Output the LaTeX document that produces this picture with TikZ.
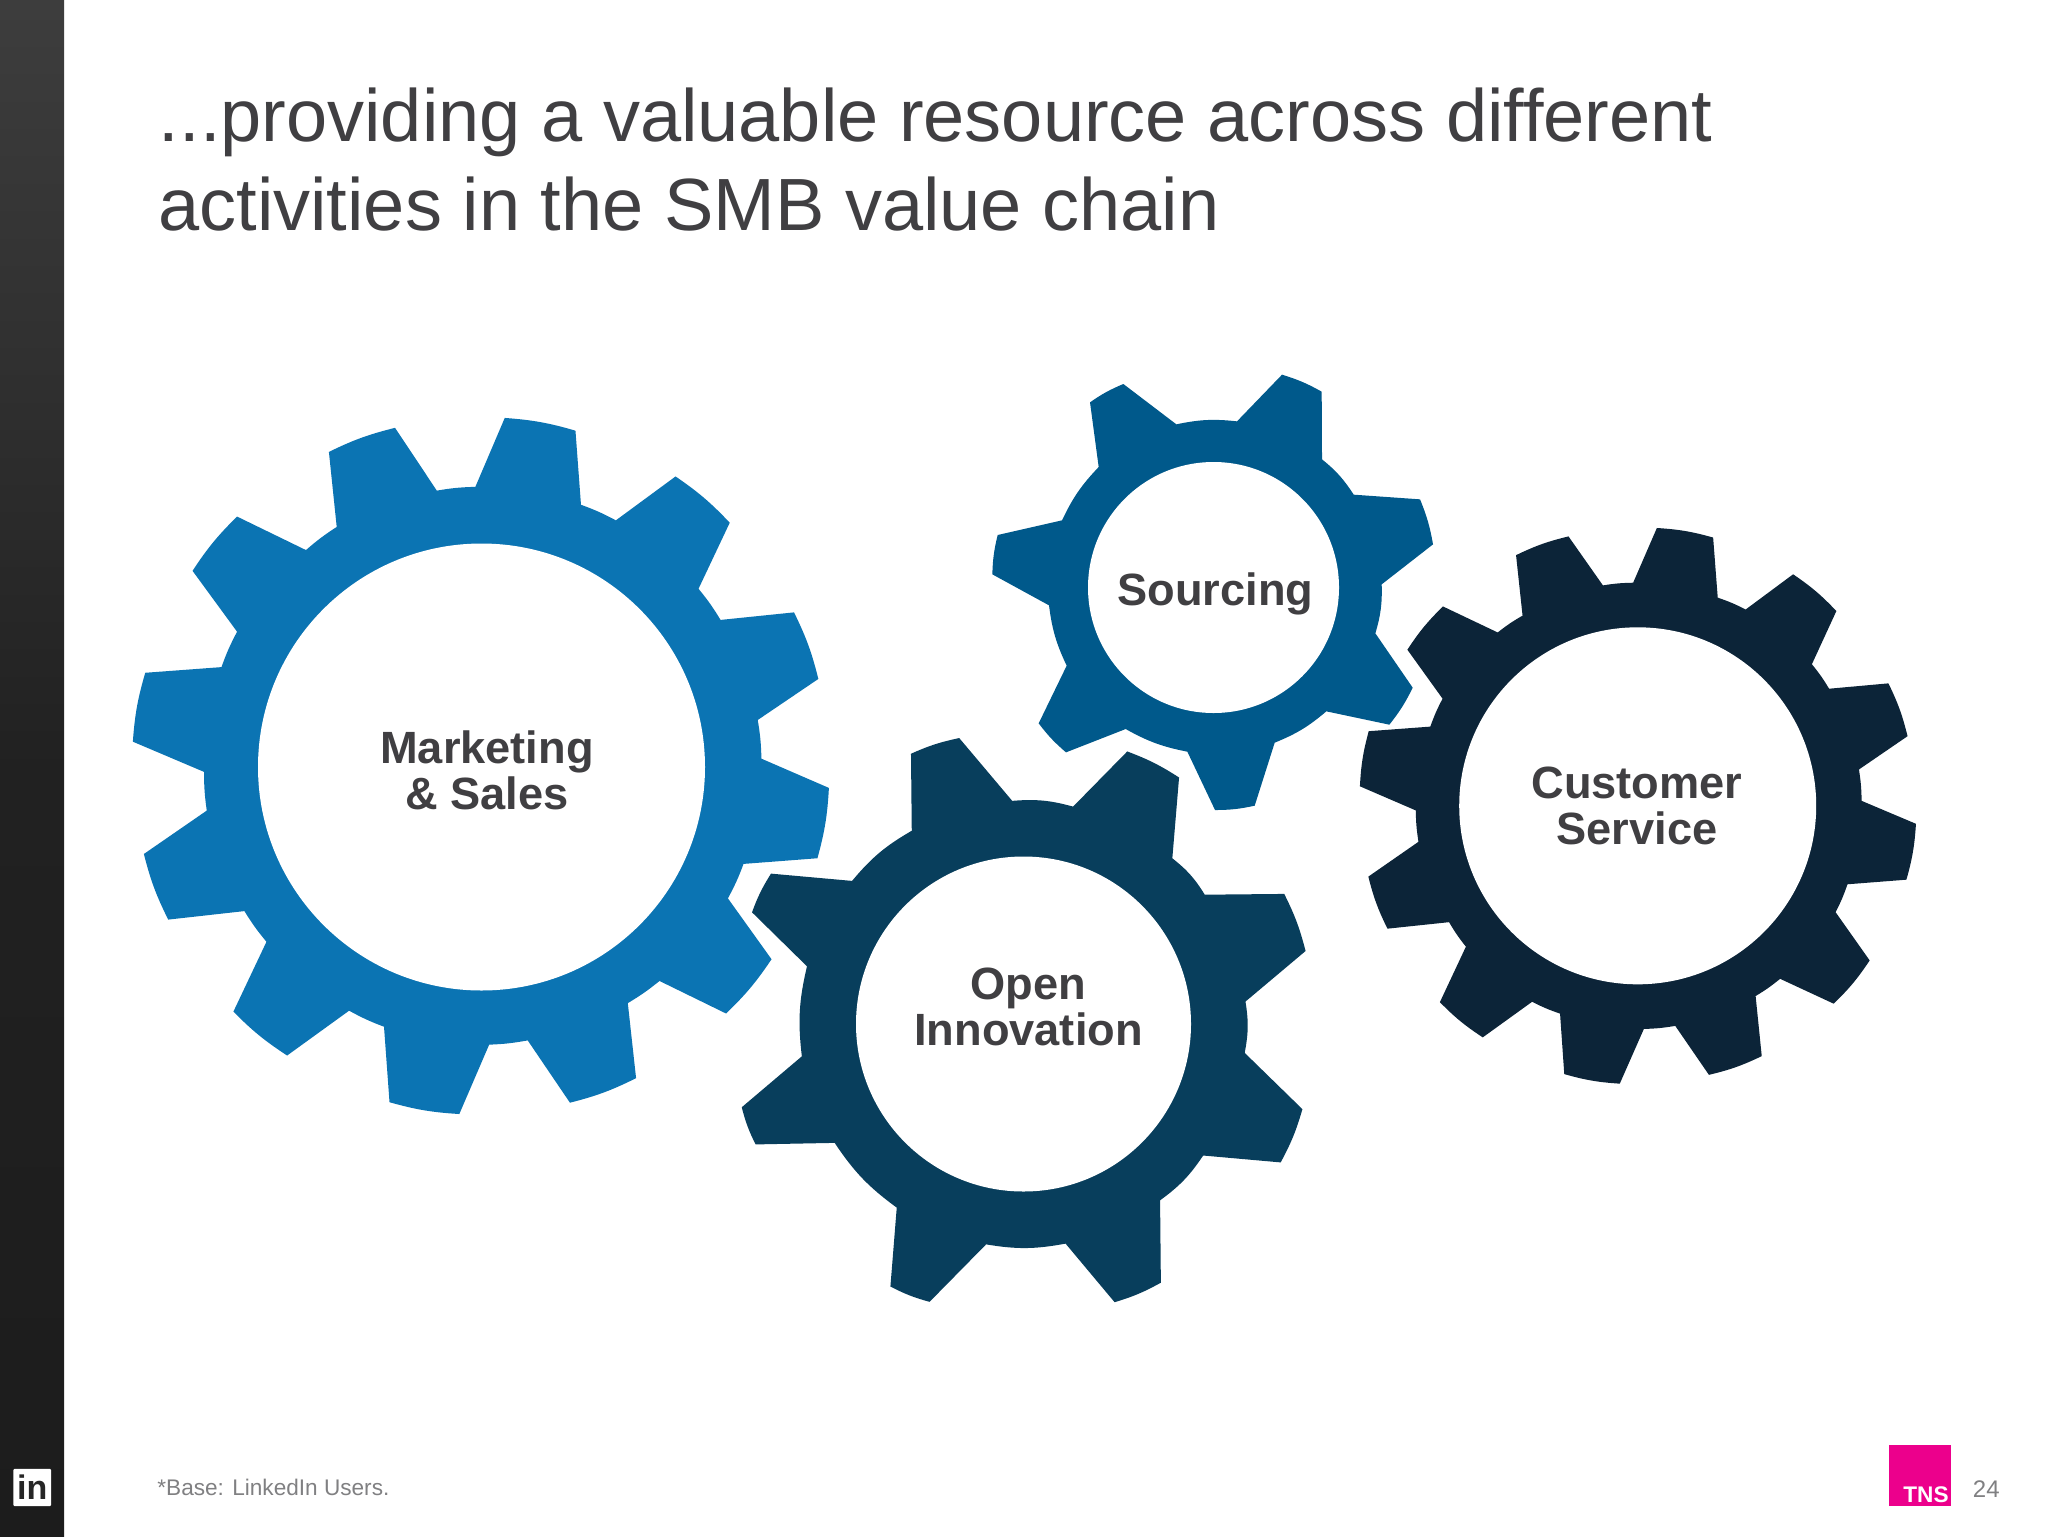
\documentclass[tikz,border=0pt]{standalone}
\usepackage{fontspec}
\setmainfont{Liberation Sans}
\definecolor{cMark}{RGB}{11,116,179}
\definecolor{cSrc}{RGB}{0,89,139}
\definecolor{cOpen}{RGB}{8,62,92}
\definecolor{cCust}{RGB}{12,36,56}
\definecolor{cText}{RGB}{64,63,66}
\definecolor{cNote}{RGB}{128,128,130}
\definecolor{cPink}{RGB}{236,0,140}
\tikzset{
  gtip/.style={bend left=#1},
  groot/.style={bend left=#1},
  gearlabel/.style={font=\fontsize{22.6}{23}\selectfont\bfseries,text=cText,align=center,inner sep=0pt},
  plaintext/.style={anchor=base west,inner sep=0pt},
  hole/.style={fill=white}
}
\begin{document}
\begin{tikzpicture}[x=0.5pt,y=-0.5pt]
\useasboundingbox (0,0) rectangle (2048,1536);
\fill[white] (0,0) rectangle (2048,1536);
% side bar
\shade[top color=black!76,bottom color=black!89,middle color=black!87] (0,0) rectangle (64,1536);
% Marketing gear
\begin{scope}[xshift=60pt,yshift=-200pt,x=0.22957pt,y=-0.23596pt]
\fill[cMark] (838,38) to[gtip=6] (992,65) -- (1004,222) to[groot=4] (1080,255)
 -- (1210,162) to[gtip=6] (1328,260) -- (1260,400) to[groot=4] (1308,466)
 -- (1468,450) to[gtip=6] (1521,591) -- (1389,678) to[groot=4] (1397,760)
 -- (1544,822) to[gtip=6] (1519,971) -- (1358,983) to[groot=4] (1324,1056)
 -- (1419,1185) to[gtip=6] (1320,1300) -- (1175,1231) to[groot=4] (1106,1278)
 -- (1124,1437) to[gtip=6] (980,1489) -- (888,1357) to[groot=4] (804,1366)
 -- (739,1513) to[gtip=6] (587,1488) -- (575,1328) to[groot=4] (499,1294)
 -- (364,1389) to[gtip=6] (247,1296) -- (319,1148) to[groot=4] (271,1083)
 -- (105,1101) to[gtip=6] (52,962) -- (189,870) to[groot=4] (183,788)
 -- (28,724) to[gtip=6] (55,578) -- (221,566) to[groot=4] (255,491)
 -- (158,362) to[gtip=6] (255,247) -- (405,318) to[groot=4] (472,269)
 -- (455,110) to[gtip=6] (599,59) -- (690,192) to[groot=4] (774,184) -- cycle;
\end{scope}
\fill[hole] (481.5,767) circle (223.5);
% Sourcing gear
\begin{scope}[xshift=480pt,yshift=-180pt,x=0.16667pt,y=-0.16667pt]
\fill[cSrc] (966,44) to[gtip=6] (1085,95) -- (1086,298) to[groot=9] (1181,404)
 -- (1380,418) to[gtip=6] (1419,553) -- (1265,673) to[groot=9] (1246,820)
 -- (1358,983) to[gtip=6] (1288,1094) -- (1099,1054) to[groot=9] (944,1148)
 -- (884,1337) to[gtip=6] (765,1350) -- (682,1175) to[groot=9] (497,1107)
 -- (318,1177) to[gtip=6] (236,1090) -- (320,917) to[groot=9] (267,736)
 -- (97,643) to[gtip=6] (113,525) -- (306,481) to[groot=9] (416,321)
 -- (390,127) to[gtip=6] (490,72) -- (649,193) to[groot=9] (831,184) -- cycle;
\end{scope}
\fill[hole] (1213.5,587.5) circle (125.5);
% Customer gear
\begin{scope}[xshift=670pt,yshift=-255pt,x=0.19135pt,y=-0.19135pt]
\fill[cCust] (828,47) to[gtip=6] (975,72) -- (987,229) to[groot=4] (1060,260)
 -- (1184,168) to[gtip=6] (1297,264) -- (1233,403) to[groot=4] (1278,467)
 -- (1433,453) to[gtip=6] (1483,591) -- (1356,678) to[groot=4] (1363,760)
 -- (1505,820) to[gtip=6] (1480,966) -- (1326,978) to[groot=4] (1295,1051)
 -- (1384,1177) to[gtip=6] (1290,1290) -- (1150,1225) to[groot=4] (1086,1270)
 -- (1102,1427) to[gtip=6] (964,1476) -- (876,1348) to[groot=4] (794,1356)
 -- (731,1499) to[gtip=6] (586,1474) -- (575,1316) to[groot=4] (502,1285)
 -- (373,1378) to[gtip=6] (261,1286) -- (329,1141) to[groot=4] (285,1077)
 -- (124,1094) to[gtip=6] (74,958) -- (205,867) to[groot=4] (198,785)
 -- (52,722) to[gtip=6] (75,578) -- (236,566) to[groot=4] (268,493)
 -- (176,365) to[gtip=6] (269,252) -- (412,320) to[groot=4] (477,276)
 -- (460,118) to[gtip=6] (597,69) -- (687,197) to[groot=4] (766,190) -- cycle;
\end{scope}
\fill[hole] (1637.7,805.8) circle (178.5);
% Open gear
\begin{scope}[xshift=360pt,yshift=-365pt,x=0.19770pt,y=-0.19150pt]
\fill[cOpen] (1030,56) to[gtip=6] (1161,124) -- (1144,335) to[groot=10] (1226,430)
 -- (1427,428) to[gtip=6] (1481,577) -- (1329,709) to[groot=10] (1327,843)
 -- (1473,990) to[gtip=6] (1418,1129) -- (1222,1111) to[groot=10] (1113,1228)
 -- (1115,1443) to[gtip=6] (998,1494) -- (874,1341) to[groot=10] (673,1343)
 -- (530,1493) to[gtip=6] (431,1453) -- (447,1247) to[groot=10] (290,1078)
 -- (90,1082) to[gtip=6] (55,985) -- (207,852) to[groot=10] (220,617)
 -- (81,476) to[gtip=6] (129,375) -- (334,394) to[groot=10] (485,263)
 -- (483,62) to[gtip=6] (605,21) -- (739,185) to[groot=10] (893,200) -- cycle;
\end{scope}
\fill[hole] (1023.5,1024) circle (167.5);
% gear labels
\node[gearlabel] (marketing) at (487,770) {Marketing\\\& Sales};
\node[gearlabel] (sourcing) at (1215.5,594) {Sourcing};
\node[gearlabel] (customer) at (1637,806) {Customer\\Service};
\node[gearlabel] (open) at (1028.5,1007) {Open\\Innovation};
% title
\node[plaintext,text=cText,font=\fontsize{37}{45}\selectfont] (title1) at (158.5,141.5) {...providing a valuable resource across different};
\node[plaintext,text=cText,font=\fontsize{37}{45}\selectfont] (title2) at (158,230) {activities in the SMB value chain};
% footer
\node[fill=white,minimum width=18.8pt,minimum height=18.6pt,inner sep=0pt,text=black!85,font=\fontsize{17}{17}\selectfont\bfseries,rounded corners=0.5pt] (inlogo) at (32.2,1487.5) {in};
\node[plaintext,text=cNote,font=\fontsize{11.3}{14}\selectfont] (note) at (157,1495.5) {*Base: LinkedIn Users.};
\node[fill=cPink,minimum width=31pt,minimum height=30.5pt,inner sep=0pt] (tnsbox) at (1920,1475.5) {};
\node[anchor=base east,inner sep=0pt,text=white,font=\fontsize{11.3}{11}\selectfont\bfseries] (tns) at (1949,1502) {TNS};
\node[plaintext,text=cNote,font=\fontsize{12}{14}\selectfont] (page) at (1972.5,1497) {24};
\end{tikzpicture}
\end{document}
